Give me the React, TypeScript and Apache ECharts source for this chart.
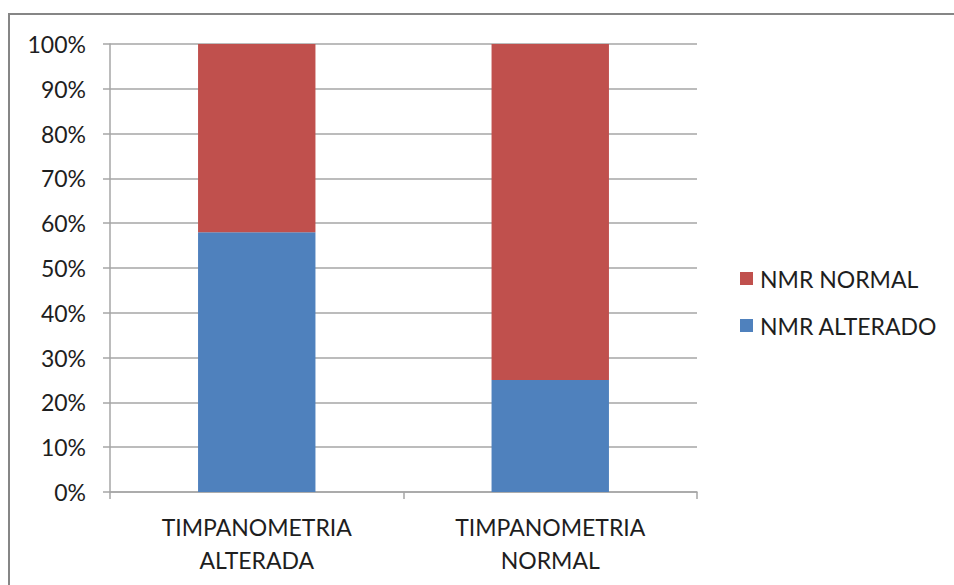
import React, { useEffect, useRef } from "react";
import * as echarts from "echarts";

const categories = ["TIMPANOMETRIA\nALTERADA", "TIMPANOMETRIA\nNORMAL"];
const nmrAlterado = [58, 25];
const nmrNormal = [42, 75];
const yTicks = { min: 0, max: 100, interval: 10 };

const FONT = "Lato";
const TEXT = "#1e1e1e";
const GRID = "#a6a6a6";
const FS = 23;

export default function App() {
  const ref = useRef<HTMLDivElement>(null);

  useEffect(() => {
    if (!ref.current) return;
    const chart = echarts.init(ref.current, null, { renderer: "svg" });
    chart.setOption({
      animation: false,
      backgroundColor: "#ffffff",
      textStyle: { fontFamily: FONT },
      graphic: [
        {
          type: "polyline",
          shape: { points: [[9, 600], [9, 14], [960, 14]] },
          style: { stroke: "#868686", lineWidth: 2, fill: "none" },
          silent: true,
        },
      ],
      legend: {
        orient: "vertical",
        left: 740,
        top: 267,
        padding: 0,
        itemWidth: 13,
        itemHeight: 13,
        itemGap: 24,
        icon: "rect",
        data: ["NMR NORMAL", "NMR ALTERADO"],
        textStyle: { fontFamily: FONT, fontSize: FS, color: TEXT, padding: [0, 0, 0, 2] },
      },
      grid: { left: 110, top: 44, right: 257, bottom: 93, containLabel: false },
      xAxis: {
        type: "category",
        data: categories,
        axisLine: { lineStyle: { color: GRID, width: 1.5 } },
        axisTick: { show: true, length: 7, lineStyle: { color: GRID, width: 1.5 } },
        axisLabel: {
          fontFamily: FONT,
          fontSize: FS,
          color: TEXT,
          margin: 18,
          lineHeight: 33,
          interval: 0,
        },
      },
      yAxis: {
        type: "value",
        min: yTicks.min,
        max: yTicks.max,
        interval: yTicks.interval,
        axisLine: { show: true, lineStyle: { color: GRID, width: 1.5 } },
        axisTick: { show: true, length: 7, lineStyle: { color: GRID, width: 1.5 } },
        splitLine: { lineStyle: { color: GRID, width: 1.5 } },
        axisLabel: {
          fontFamily: FONT,
          fontSize: FS,
          color: TEXT,
          margin: 24,
          formatter: "{value}%",
        },
      },
      series: [
        {
          name: "NMR ALTERADO",
          type: "bar",
          stack: "total",
          barWidth: "40%",
          data: nmrAlterado,
          itemStyle: { color: "#4f81bd" },
        },
        {
          name: "NMR NORMAL",
          type: "bar",
          stack: "total",
          barWidth: "40%",
          data: nmrNormal,
          itemStyle: { color: "#c0504d" },
        },
      ],
    });
    return () => chart.dispose();
  }, []);

  return (
    <div
      ref={ref}
      style={{ position: "fixed", left: 0, top: 0, width: 954, height: 585 }}
    />
  );
}
